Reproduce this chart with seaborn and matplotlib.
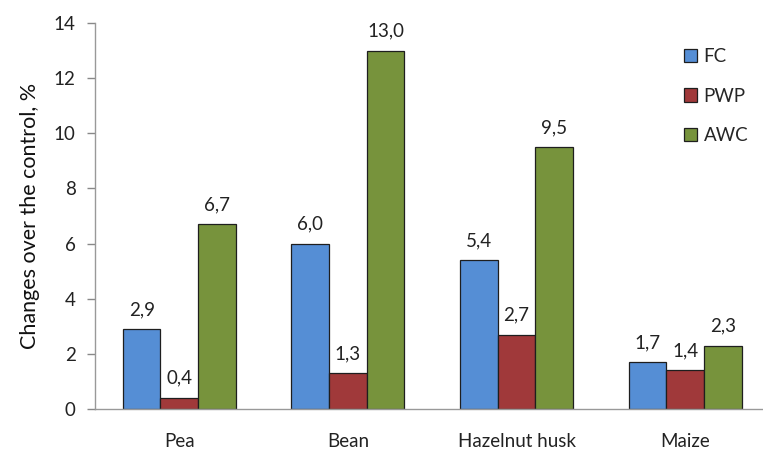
import matplotlib
matplotlib.use("Agg")
import matplotlib.pyplot as plt
import seaborn as sns
import pandas as pd

categories = ["Pea", "Bean", "Hazelnut husk", "Maize"]
fc = [2.9, 6.0, 5.4, 1.7]
pwp = [0.4, 1.3, 2.7, 1.4]
awc = [6.7, 13.0, 9.5, 2.3]
series = ["FC", "PWP", "AWC"]
colors = ["#558ED5", "#A0393A", "#77933C"]

rows = []
for name, vals in zip(series, [fc, pwp, awc]):
    for c, v in zip(categories, vals):
        rows.append({"cat": c, "series": name, "value": v})
df = pd.DataFrame(rows)

sns.set_style("white")
plt.rcParams["font.family"] = ["Lato", "DejaVu Sans"]

fig = plt.figure(figsize=(7.63, 4.49), dpi=100)
ax = fig.add_axes([0.1245, 0.0891, 0.884, 0.8597])
sns.barplot(data=df, x="cat", y="value", hue="series", palette=colors,
            order=categories, hue_order=series, width=0.67,
            edgecolor="#1e1e1e", linewidth=0.9, ax=ax, saturation=1)

for cont in ax.containers:
    ax.bar_label(cont, labels=[f"{v:.1f}".replace(".", ",") for v in cont.datavalues],
                 padding=8, fontsize=13.5, color="#222222")

ax.set_ylim(0, 14)
ax.set_yticks(range(0, 15, 2))
ax.set_xlim(-0.5, 3.5)
ax.set_xlabel("")
ax.set_ylabel("Changes over the control, %", fontsize=15.5, color="#111111", labelpad=10)
ax.tick_params(axis="y", labelsize=13.5, colors="#222222", direction="out",
               length=6, width=1, color="#888888", pad=8, left=True)
ax.tick_params(axis="x", which="major", labelsize=13.5, colors="#222222", length=0, pad=17)
ax.set_xticks([-0.5, 0.5, 1.5, 2.5], minor=True)
ax.tick_params(axis="x", which="minor", direction="out", length=5, width=1, color="#888888")
for s in ["top", "right"]:
    ax.spines[s].set_visible(False)
for s in ["left", "bottom"]:
    ax.spines[s].set_color("#999999")
    ax.spines[s].set_linewidth(1)

leg = ax.legend(loc="upper left", bbox_to_anchor=(684 / 763, 1 - 48 / 449),
                bbox_transform=fig.transFigure, frameon=False,
                fontsize=13.5, handlelength=0.7, handleheight=0.7,
                labelspacing=1.2, handletextpad=0.35, borderpad=0, borderaxespad=0)
for h in leg.legend_handles:
    h.set_edgecolor("#1e1e1e")
    h.set_linewidth(0.9)

fig.savefig("out.png", dpi=100)
